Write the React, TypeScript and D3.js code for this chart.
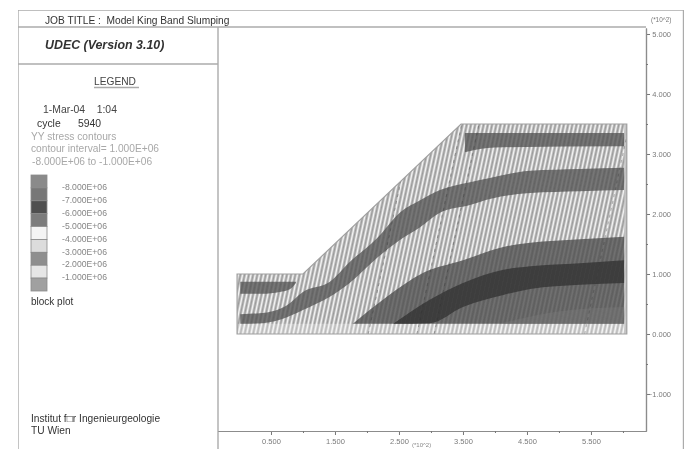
import React, { useEffect, useRef } from 'react';
import * as d3 from 'd3';

const xLabelled = [0.5, 1.5, 2.5, 3.5, 4.5, 5.5];
const xMinor = [1, 2, 3, 4, 5, 6];
const yLabelled = [-1, 0, 1, 2, 3, 4, 5];
const yMinor = [-0.5, 0.5, 1.5, 2.5, 3.5, 4.5];

// block outline of the slope model (x, y in the plot units)
const outlineX = [-0.03, -0.03, 1.0, 3.47, 6.06, 6.06];
const outlineY = [0, 1.0, 1.0, 3.5, 3.5, 0];

// stress bands, each one a top and a bottom boundary
const bandAX = [3.53, 4.0, 6.02];
const bandATop = [3.35, 3.35, 3.35];
const bandABottom = [3.03, 3.11, 3.13];

const bandBX = [0.02, 0.36, 0.75, 1.0, 1.42, 1.73, 2.16, 2.52, 2.83, 3.14, 3.61, 3.92, 4.55, 5.33, 6.02];
const bandBTop = [0.33, 0.35, 0.48, 0.7, 0.87, 1.2, 1.6, 2.03, 2.23, 2.4, 2.53, 2.6, 2.72, 2.75, 2.77];
const bandBBottom = [0.17, 0.18, 0.28, 0.4, 0.62, 0.85, 1.27, 1.57, 1.78, 2.02, 2.15, 2.25, 2.35, 2.38, 2.4];

const bandCX = [0.02, 0.36, 0.64, 0.8, 0.89];
const bandCTop = [0.87, 0.87, 0.87, 0.87, 0.87];
const bandCBottom = [0.67, 0.67, 0.7, 0.75, 0.85];

const bandDX = [1.78, 2.31, 2.88, 3.5, 4.13, 4.55, 5.33, 6.02];
const bandDTop = [0.17, 0.62, 1.02, 1.23, 1.45, 1.52, 1.58, 1.62];
const bandDBottom = [0.17, 0.17, 0.17, 0.17, 0.17, 0.17, 0.17, 0.17];

const bandEX = [2.41, 2.98, 3.5, 4.13, 4.55, 5.33, 6.02];
const bandETop = [0.17, 0.57, 0.85, 1.07, 1.13, 1.18, 1.23];
const bandEBottom = [0.17, 0.18, 0.45, 0.65, 0.75, 0.82, 0.85];

const bandGX = [4.08, 5.02, 6.02];
const bandGTop = [0.17, 0.38, 0.45];
const bandGBottom = [0.17, 0.17, 0.17];

// pale strip along the base of the block
const stripX = [-0.03, 6.06];
const stripTop = [0.17, 0.17];
const stripBottom = [0, 0];

// solid strip along the right edge
const edgeX = [6.02, 6.06];
const edgeTop = [3.5, 3.5];
const edgeBottom = [0, 0];

const darkJoints = [2.02, 2.78, 3.05, 5.4];

const legendColors = ['#8a8a8a', '#777777', '#505050', '#7c7c7c', '#f4f4f4', '#dcdcdc', '#8e8e8e', '#e6e6e6', '#a0a0a0'];
const legendLabels = ['-8.000E+06', '-7.000E+06', '-6.000E+06', '-5.000E+06', '-4.000E+06', '-3.000E+06', '-2.000E+06', '-1.000E+06'];

const x = d3.scaleLinear().domain([-0.328, 6.36]).range([218, 646]);
const y = d3.scaleLinear().domain([-1.617, 5.1]).range([431, 28]);

const jointSpacing = 0.066;
const jointLean = 0.2;

export default function App() {
  const plot = useRef<SVGGElement>(null);

  useEffect(() => {
    const g = d3.select(plot.current);
    g.selectAll('*').remove();

    const outlinePts = outlineX.map((d, i) => [x(d), y(outlineY[i])] as [number, number]);
    const outlinePath = d3.line()(outlinePts) + 'Z';

    g.append('clipPath').attr('id', 'model').append('path').attr('d', outlinePath);
    const inside = g.append('g').attr('clip-path', 'url(#model)');

    inside.append('path').attr('d', outlinePath).attr('fill', '#bcbcbc');

    // joints: white and grey lines alternate
    const joints = d3.range(-1, 6.2, jointSpacing);
    const jointLine = (sel: any, data: number[], off: number, color: string, w: number, op: number, dash?: string) => {
      sel.append('g').selectAll('line').data(data).join('line')
        .attr('x1', (d: number) => x(d + off))
        .attr('y1', y(0))
        .attr('x2', (d: number) => x(d + off + jointLean * 3.5))
        .attr('y2', y(3.5))
        .attr('stroke', color).attr('stroke-width', w).attr('stroke-opacity', op)
        .attr('stroke-dasharray', dash || null);
    };
    jointLine(inside, joints, 0, '#ffffff', 1.3, 0.8);
    jointLine(inside, joints, jointSpacing / 2, '#707070', 0.9, 0.5);

    const bands = [
      { xs: stripX, top: stripTop, bottom: stripBottom, fill: '#ffffff', op: 0.3, curved: false },
      { xs: bandAX, top: bandATop, bottom: bandABottom, fill: '#555555', op: 0.78, curved: true },
      { xs: bandBX, top: bandBTop, bottom: bandBBottom, fill: '#555555', op: 0.78, curved: true },
      { xs: bandCX, top: bandCTop, bottom: bandCBottom, fill: '#555555', op: 0.78, curved: true },
      { xs: bandDX, top: bandDTop, bottom: bandDBottom, fill: '#505050', op: 0.8, curved: true },
      { xs: bandGX, top: bandGTop, bottom: bandGBottom, fill: '#777777', op: 0.45, curved: true },
      { xs: bandEX, top: bandETop, bottom: bandEBottom, fill: '#333333', op: 0.8, curved: true },
      { xs: edgeX, top: edgeTop, bottom: edgeBottom, fill: '#c4c4c4', op: 0.9, curved: false },
    ];
    bands.forEach((b) => {
      const area = d3.area<number>()
        .x((d) => x(d))
        .y0((_, i) => y(b.bottom[i]))
        .y1((_, i) => y(b.top[i]))
        .curve(b.curved ? d3.curveMonotoneX : d3.curveLinear);
      inside.append('path').attr('d', area(b.xs)).attr('fill', b.fill).attr('fill-opacity', b.op);
    });

    jointLine(inside, darkJoints, 0, '#333333', 0.8, 0.45, '3 4');

    g.append('path').attr('d', outlinePath).attr('fill', 'none').attr('stroke', '#a0a0a0').attr('stroke-width', 1.2);

    // axes
    const xAxis = g.append('g').attr('transform', `translate(0,${y.range()[0]})`)
      .call(d3.axisBottom(x).tickValues(xLabelled).tickFormat(d3.format('.3f') as any).tickSize(4).tickSizeOuter(0).tickPadding(4));
    const xAxisMinor = g.append('g').attr('transform', `translate(0,${y.range()[0]})`)
      .call(d3.axisBottom(x).tickValues(xMinor).tickFormat(() => '').tickSize(2).tickSizeOuter(0));
    const yAxis = g.append('g').attr('transform', `translate(${x.range()[1]},0)`)
      .call(d3.axisRight(y).tickValues(yLabelled).tickFormat(d3.format('.3f') as any).tickSize(4).tickSizeOuter(0).tickPadding(4));
    const yAxisMinor = g.append('g').attr('transform', `translate(${x.range()[1]},0)`)
      .call(d3.axisRight(y).tickValues(yMinor).tickFormat(() => '').tickSize(2).tickSizeOuter(0));

    [xAxis, xAxisMinor, yAxis, yAxisMinor].forEach((a) => {
      a.selectAll('.domain').attr('stroke', '#8c8c8c').attr('stroke-width', 1.2);
      a.selectAll('line').attr('stroke', '#777777');
      a.selectAll('text').attr('fill', '#7a7a7a').attr('font-size', 7.5).attr('font-family', 'Liberation Sans');
    });
    yAxis.selectAll('text').attr('text-anchor', 'end').attr('x', 25);
  }, []);

  const sans = 'Liberation Sans';
  const swatchY = d3.scaleLinear().domain([0, legendColors.length]).range([175, 291]);

  return (
    <svg width={690} height={449} style={{ position: 'absolute', left: 0, top: 0, background: '#fff' }} fontFamily={sans}>
      <defs>
        <filter id="soft" x="0" y="0" width="100%" height="100%">
          <feGaussianBlur stdDeviation="0.35" />
        </filter>
      </defs>
      <g filter="url(#soft)">
        <g fill="none" stroke="#ababab" strokeWidth={1.4}>
          <path d="M18,449V10H683.5V449" />
          <path d="M18,27H646" />
          <path d="M218,27V449" />
          <path d="M18,64H218" />
        </g>

        <text x={45} y={23.5} fontSize={10.2} fill="#333" xmlSpace="preserve">JOB TITLE :  Model King Band Slumping</text>
        <text x={45} y={49} fontSize={12.4} fontWeight="bold" fontStyle="italic" fill="#333">UDEC (Version 3.10)</text>
        <text x={94} y={85} fontSize={10.2} fill="#444">LEGEND</text>
        <path d="M94,87.5H139" stroke="#aaa" strokeWidth={1.4} />
        <text x={43} y={113} fontSize={10.4} fill="#444" xmlSpace="preserve">1-Mar-04    1:04</text>
        <text x={37} y={127} fontSize={10.4} fill="#333" xmlSpace="preserve">cycle      5940</text>
        <text x={31} y={140} fontSize={10.2} fill="#a8a8a8">YY stress contours</text>
        <text x={31} y={152} fontSize={10.2} fill="#a8a8a8">contour interval= 1.000E+06</text>
        <text x={32} y={165} fontSize={10.2} fill="#a8a8a8">-8.000E+06 to -1.000E+06</text>

        {legendColors.map((c, i) => (
          <rect key={c + i} x={31} width={16} y={swatchY(i)} height={swatchY(i + 1) - swatchY(i)}
            fill={c} stroke="#8a8a8a" strokeWidth={0.8} />
        ))}
        {legendLabels.map((t, i) => (
          <text key={t} x={62} y={190 + i * 12.9} fontSize={8.6} fill="#858585"
            textLength={45} lengthAdjust="spacingAndGlyphs">{t}</text>
        ))}
        <text x={31} y={305} fontSize={10} fill="#333">block plot</text>
        <text x={31} y={422} fontSize={10.2} fill="#333">Institut f□r Ingenieurgeologie</text>
        <text x={31} y={434} fontSize={10.2} fill="#333">TU Wien</text>

        <g ref={plot} />

        <text x={651} y={22} fontSize={6.4} fill="#777">(*10^2)</text>
        <text x={412} y={447} fontSize={6} fill="#888">(*10^2)</text>
      </g>
    </svg>
  );
}
